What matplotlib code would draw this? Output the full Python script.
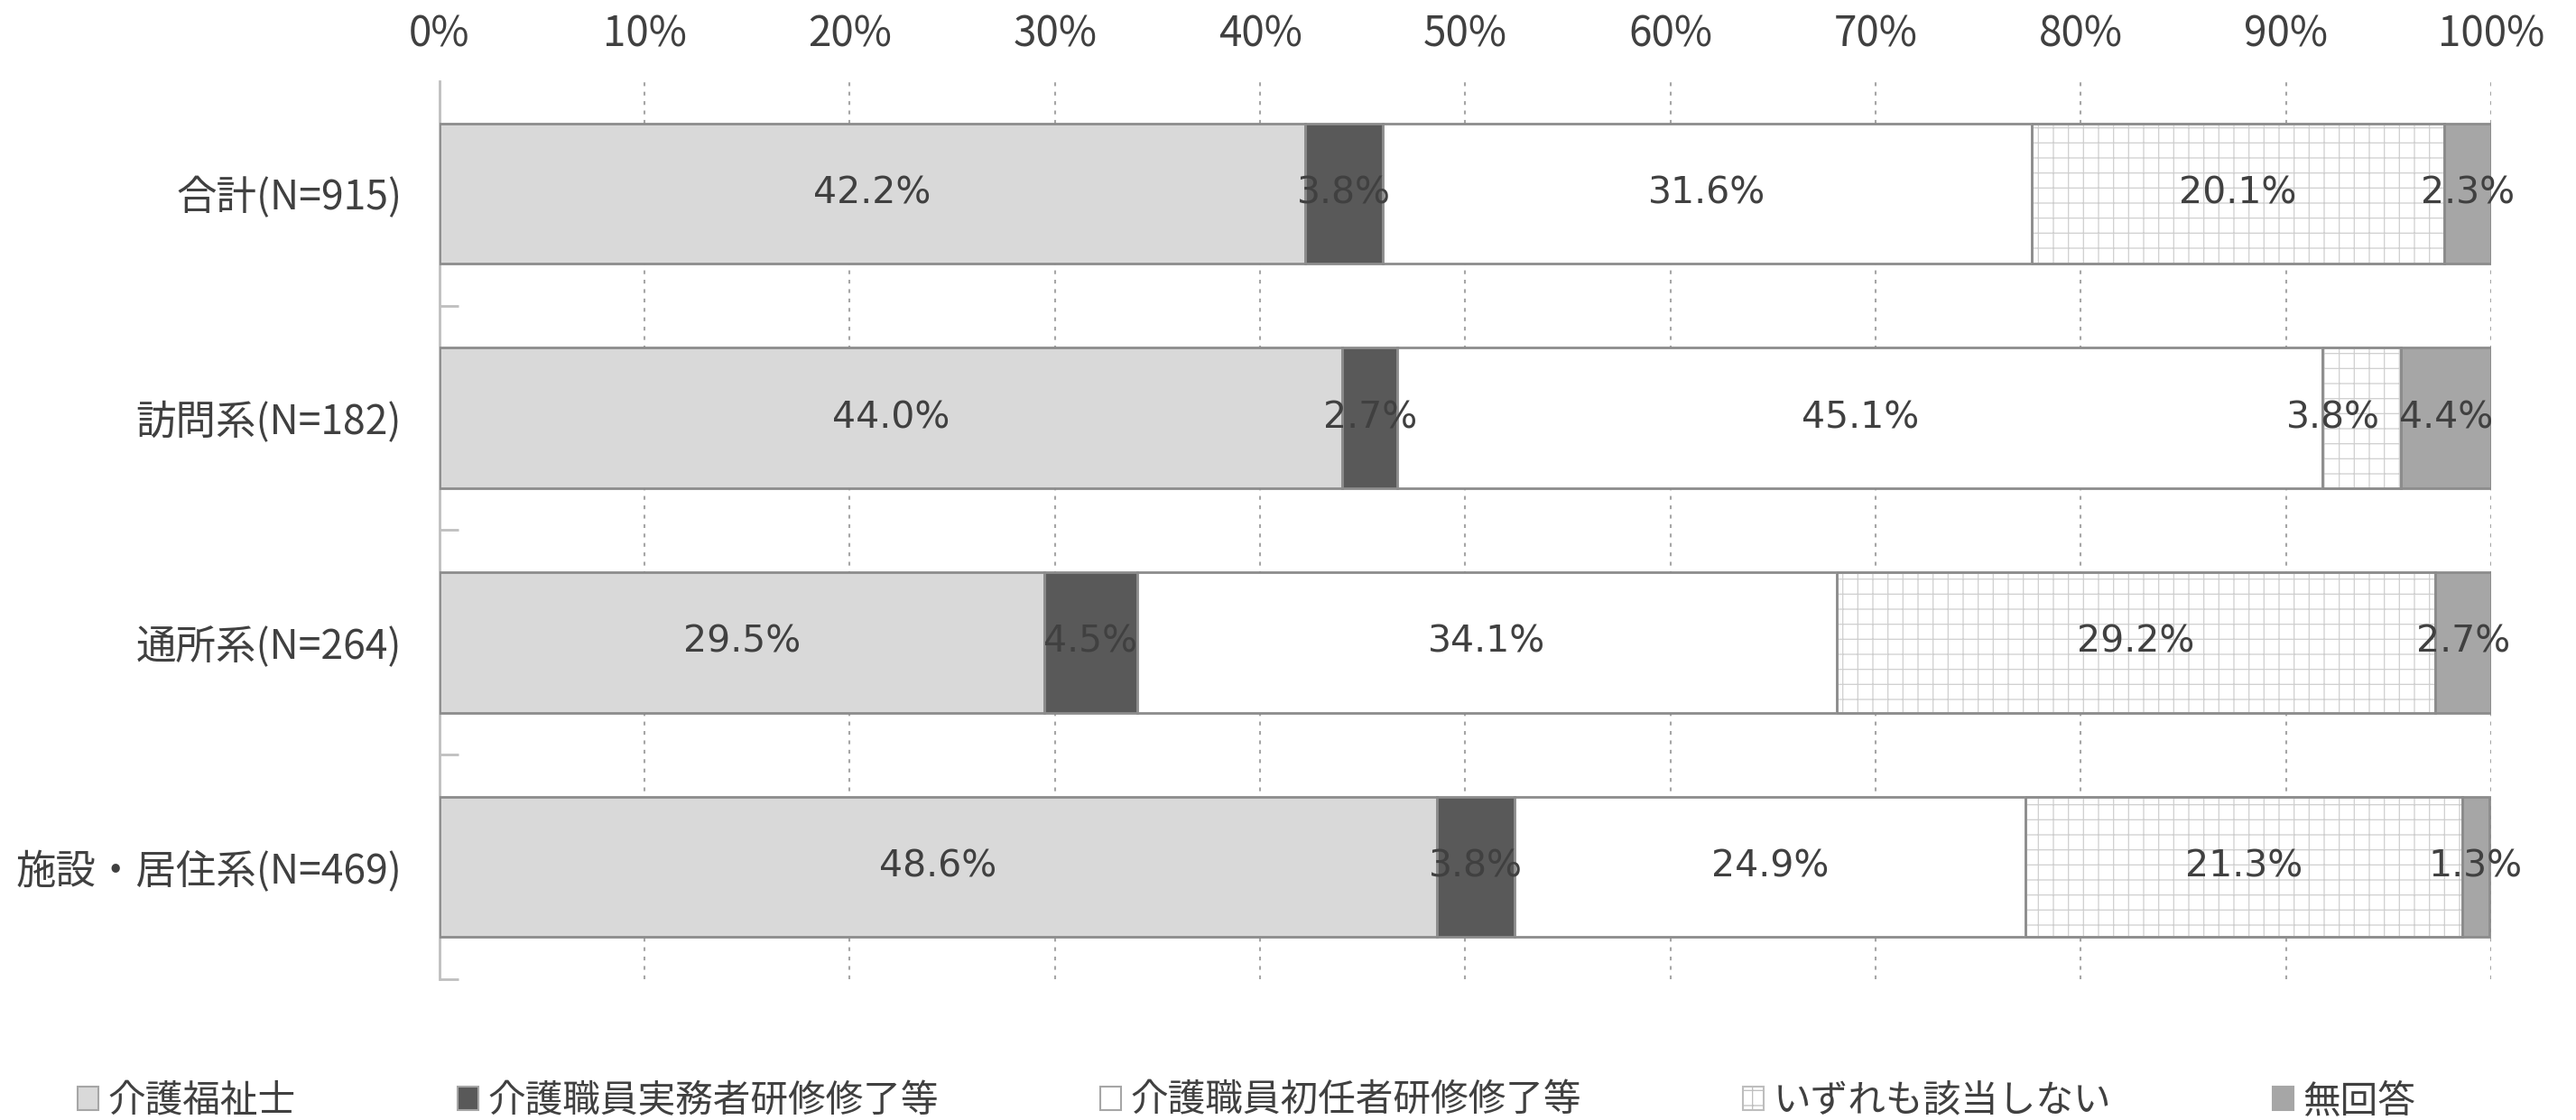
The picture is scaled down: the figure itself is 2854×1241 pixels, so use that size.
import numpy as np
import matplotlib.pyplot as plt
from matplotlib.patches import Patch

plt.rcParams['font.family'] = ['Noto Sans CJK JP', 'DejaVu Sans']
plt.rcParams['hatch.linewidth'] = 0.9

categories = ["合計(N=915)", "訪問系(N=182)", "通所系(N=264)", "施設・居住系(N=469)"]
series = ["介護福祉士", "介護職員実務者研修修了等", "介護職員初任者研修修了等", "いずれも該当しない", "無回答"]
values = [
    [42.2, 44.0, 29.5, 48.6],
    [3.8, 2.7, 4.5, 3.8],
    [31.6, 45.1, 34.1, 24.9],
    [20.1, 3.8, 29.2, 21.3],
    [2.3, 4.4, 2.7, 1.3],
]
colors = ["#D9D9D9", "#595959", "#FFFFFF", "#FFFFFF", "#A6A6A6"]
hatches = [None, None, None, "+", None]
# labels nudged sideways so neighbours don't collide (series, row): dx
nudge = {(3, 1): -0.014}

txt = "#404040"
edge = "#8C8C8C"

fig = plt.figure(figsize=(28.54, 12.41), dpi=100)
ax = fig.add_axes([0.1706, 0.1257, 0.9670 - 0.1706, 0.9275 - 0.1257])

y = np.arange(len(categories))
left = np.zeros(len(categories))
for i, name in enumerate(series):
    v = np.array(values[i]) / 100.0
    bars = ax.barh(y, v, left=left, height=0.625, color=colors[i],
                   edgecolor=edge, linewidth=2, hatch=hatches[i], zorder=3)
    if hatches[i]:
        for b in bars:
            b.set_edgecolor("#CFCFCF")
        # outline again in the darker gray
        ax.barh(y, v, left=left, height=0.625, color="none",
                edgecolor=edge, linewidth=2, zorder=4)
    for j in range(len(categories)):
        ax.text(left[j] + v[j] / 2 + nudge.get((i, j), 0), y[j], f"{values[i][j]:.1f}%",
                ha="center", va="center", fontsize=29.5, color=txt,
                family="DejaVu Sans", zorder=5)
    left += v

ax.set_xlim(0, 1)
ax.set_ylim(len(categories) - 0.5, -0.5)
ticks = np.arange(0, 1.01, 0.1)
ax.set_xticks(ticks)
ax.set_xticklabels([f"{int(round(t * 100))}%" for t in ticks])
ax.xaxis.tick_top()
ax.tick_params(axis="x", length=0, pad=20, labelsize=33, labelcolor=txt)
ax.set_yticks(y)
ax.set_yticklabels(categories)
ax.tick_params(axis="y", which="major", length=0, pad=30, labelsize=32, labelcolor=txt)
ax.set_yticks(np.arange(0.5, len(categories), 1), minor=True)
ax.tick_params(axis="y", which="minor", direction="in", length=15, width=2, color="#BFBFBF")

ax.grid(axis="x", color="#A6A6A6", linestyle=(0, (2, 3)), linewidth=1.5, zorder=0)
for s in ["top", "right", "bottom"]:
    ax.spines[s].set_visible(False)
ax.spines["left"].set_color("#BFBFBF")
ax.spines["left"].set_linewidth(2)

handles = [Patch(facecolor=colors[i], edgecolor="#A6A6A6" if not hatches[i] else "#BDBDBD",
                 hatch=hatches[i], linewidth=1.5, label=series[i]) for i in range(len(series))]
leg = fig.legend(handles=handles, loc="lower center", bbox_to_anchor=(0.484, -0.03),
                 ncol=5, frameon=False, fontsize=30, handlelength=0.55, handleheight=0.55,
                 handletextpad=0.25, columnspacing=4.3)
for t in leg.get_texts():
    t.set_color(txt)

fig.savefig("out.png", dpi=100)
